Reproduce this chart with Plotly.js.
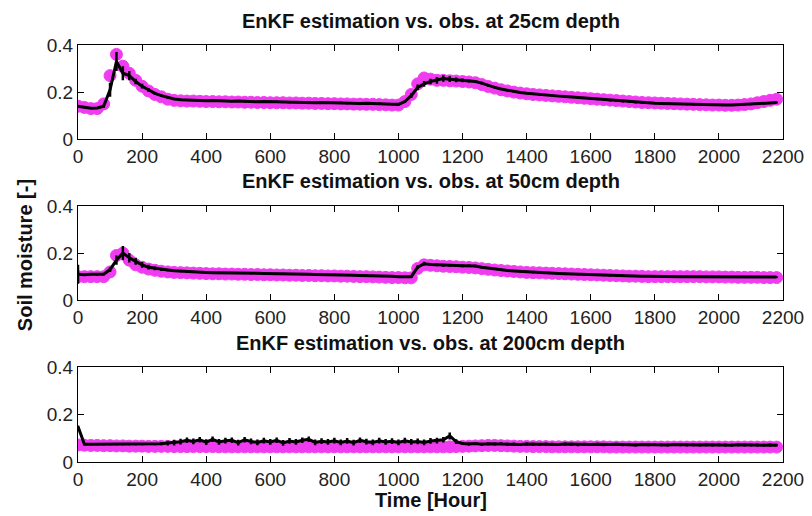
<!DOCTYPE html>
<html>
<head>
<meta charset="utf-8">
<script src="https://cdn.plot.ly/plotly-3.0.1.min.js"></script>
<style>
html,body{margin:0;padding:0;background:#fff;}
#chart{width:812px;height:516px;}
</style>
</head>
<body>
<div id="chart"></div>
<script>
// Time [Hour]
const hours = [
0,20,40,60,80,100,120,140,160,180,
200,220,240,260,280,300,320,340,360,380,
400,420,440,460,480,500,520,540,560,580,
600,620,640,660,680,700,720,740,760,780,
800,820,840,860,880,900,920,940,960,980,
1000,1020,1040,1060,1080,1100,1120,1140,1160,1180,
1200,1220,1240,1260,1280,1300,1320,1340,1360,1380,
1400,1420,1440,1460,1480,1500,1520,1540,1560,1580,
1600,1620,1640,1660,1680,1700,1720,1740,1760,1780,
1800,1820,1840,1860,1880,1900,1920,1940,1960,1980,
2000,2020,2040,2060,2080,2100,2120,2140,2160,2180];

// 25cm depth
const obs25 = [
.14,.135,.13,.13,.15,.27,.36,.31,.28,.25,
.225,.205,.19,.18,.17,.165,.163,.162,.162,.161,
.16,.16,.159,.159,.158,.158,.157,.157,.156,.156,
.155,.155,.155,.154,.154,.153,.153,.152,.152,.151,
.151,.15,.15,.149,.149,.148,.148,.147,.146,.145,
.145,.16,.19,.235,.26,.255,.25,.25,.248,.247,
.245,.243,.24,.232,.224,.217,.21,.205,.2,.196,
.193,.19,.188,.186,.184,.182,.18,.178,.176,.174,
.172,.17,.168,.166,.164,.162,.16,.158,.156,.155,
.154,.153,.152,.151,.15,.149,.148,.147,.146,.145,
.145,.144,.144,.145,.147,.15,.155,.16,.165,.17];
const est25 = [
.14,.135,.132,.133,.14,.21,.33,.28,.27,.245,
.225,.21,.195,.185,.177,.171,.168,.166,.165,.164,
.163,.164,.162,.163,.161,.162,.16,.161,.159,.16,
.158,.159,.158,.157,.158,.156,.157,.155,.156,.155,
.154,.155,.153,.154,.152,.153,.151,.152,.15,.149,
.148,.16,.185,.22,.235,.245,.25,.258,.255,.252,
.25,.247,.245,.238,.228,.22,.213,.207,.202,.198,
.195,.192,.19,.188,.186,.183,.181,.179,.177,.175,
.172,.17,.167,.164,.162,.16,.158,.156,.155,.154,
.153,.152,.151,.15,.149,.148,.147,.146,.146,.145,
.145,.145,.145,.146,.147,.148,.15,.152,.154,.156];
const err25 = [
.004,.004,.004,.004,.006,.03,.04,.03,.02,.012,
.01,.008,.006,.005,.005,.004,.004,.004,.004,.004,
.004,.004,.004,.004,.004,.004,.004,.004,.004,.004,
.004,.004,.004,.004,.004,.004,.004,.004,.004,.004,
.004,.004,.004,.004,.004,.004,.004,.004,.004,.004,
.004,.006,.01,.012,.012,.012,.014,.014,.012,.01,
.008,.006,.006,.006,.005,.004,.004,.004,.004,.004,
.004,.004,.004,.004,.004,.004,.004,.004,.004,.004,
.004,.004,.004,.004,.004,.004,.004,.004,.004,.004,
.004,.004,.004,.004,.004,.004,.004,.004,.004,.004,
.004,.004,.004,.004,.004,.004,.004,.004,.004,.004];

// 50cm depth
const obs50 = [
.10,.10,.10,.10,.10,.12,.19,.2,.17,.15,
.14,.132,.127,.123,.12,.118,.117,.116,.115,.114,
.113,.112,.112,.111,.111,.11,.11,.109,.109,.108,
.108,.107,.107,.106,.106,.105,.105,.104,.104,.103,
.103,.102,.102,.101,.1,.1,.099,.098,.097,.096,
.096,.095,.095,.135,.15,.148,.146,.144,.143,.142,
.14,.139,.137,.134,.131,.128,.126,.124,.122,.12,
.118,.117,.116,.115,.114,.113,.112,.111,.11,.109,
.108,.107,.106,.105,.104,.103,.102,.102,.101,.1,
.1,.1,.1,.1,.1,.1,.1,.1,.099,.099,
.099,.098,.098,.097,.097,.097,.097,.096,.096,.096];
const est50 = [
.11,.108,.11,.109,.11,.13,.17,.2,.18,.165,
.15,.14,.135,.13,.128,.125,.123,.121,.12,.119,
.118,.117,.117,.116,.116,.115,.115,.114,.114,.113,
.113,.112,.112,.111,.111,.11,.11,.109,.109,.108,
.108,.107,.107,.106,.105,.105,.104,.103,.102,.102,
.1,.1,.1,.14,.155,.152,.15,.148,.148,.147,
.146,.147,.145,.14,.136,.132,.129,.126,.124,.122,
.12,.118,.117,.116,.115,.113,.112,.111,.11,.109,
.108,.107,.106,.105,.104,.104,.103,.103,.102,.102,
.101,.101,.101,.1,.1,.1,.1,.1,.1,.1,
.1,.099,.099,.099,.098,.098,.098,.098,.098,.098];
const err50 = [
.04,.004,.004,.004,.004,.01,.02,.03,.02,.015,
.012,.01,.008,.006,.005,.004,.004,.004,.004,.004,
.004,.004,.004,.004,.004,.004,.004,.004,.004,.004,
.004,.004,.004,.004,.004,.004,.004,.004,.004,.004,
.004,.004,.004,.004,.004,.004,.004,.004,.004,.004,
.004,.004,.004,.008,.008,.006,.006,.006,.006,.006,
.006,.006,.005,.005,.004,.004,.004,.004,.004,.004,
.004,.004,.004,.004,.004,.004,.004,.004,.004,.004,
.004,.004,.004,.004,.004,.004,.004,.004,.004,.004,
.004,.004,.004,.004,.004,.004,.004,.004,.004,.004,
.004,.004,.004,.004,.004,.004,.004,.004,.004,.004];

// 200cm depth
const obs200 = [
.072,.071,.07,.07,.069,.069,.068,.068,.067,.067,
.067,.066,.066,.066,.066,.065,.065,.065,.065,.065,
.065,.065,.064,.064,.064,.064,.064,.064,.064,.064,
.064,.064,.064,.064,.064,.064,.064,.064,.064,.064,
.064,.064,.064,.064,.064,.064,.064,.064,.064,.064,
.064,.064,.064,.064,.064,.064,.064,.064,.064,.065,
.066,.067,.068,.069,.07,.07,.069,.068,.067,.066,
.066,.065,.065,.065,.064,.064,.064,.064,.064,.064,
.064,.064,.064,.063,.063,.063,.063,.063,.063,.063,
.063,.063,.063,.063,.063,.063,.063,.063,.063,.063,
.063,.063,.063,.063,.063,.063,.063,.063,.063,.063];
const est200 = [
.15,.075,.075,.075,.075,.075,.075,.075,.075,.075,
.075,.076,.075,.077,.08,.082,.086,.092,.087,.094,
.084,.096,.085,.09,.092,.082,.094,.087,.083,.09,
.085,.092,.081,.089,.085,.092,.096,.083,.088,.085,
.09,.083,.089,.082,.092,.086,.083,.09,.085,.088,
.083,.09,.085,.087,.083,.089,.09,.094,.11,.086,
.078,.076,.078,.075,.077,.076,.078,.075,.076,.074,
.076,.075,.074,.076,.075,.074,.076,.075,.073,.075,
.074,.075,.073,.074,.075,.073,.074,.072,.074,.073,
.074,.073,.072,.074,.073,.072,.073,.072,.073,.072,
.073,.072,.071,.073,.072,.071,.072,.071,.072,.071];
const err200 = [
.004,.004,.004,.004,.004,.004,.004,.004,.004,.004,
.004,.004,.004,.006,.01,.012,.012,.012,.012,.012,
.012,.012,.012,.012,.012,.012,.012,.012,.012,.012,
.012,.012,.012,.012,.012,.012,.012,.012,.012,.012,
.012,.012,.012,.012,.012,.012,.012,.012,.012,.012,
.012,.012,.012,.012,.012,.012,.012,.012,.015,.01,
.006,.006,.006,.006,.006,.006,.006,.006,.006,.006,
.006,.006,.006,.006,.006,.006,.006,.006,.006,.006,
.006,.006,.006,.006,.006,.006,.006,.006,.006,.006,
.006,.006,.006,.006,.006,.006,.006,.006,.006,.006,
.006,.006,.006,.006,.006,.006,.006,.006,.006,.006];

const depthLabels = ["25cm","50cm","200cm"];
const yTicks = [0, 0.2, 0.4];
const yTickText = ["0", "0.2", "0.4"];
const xTicks = [0,200,400,600,800,1000,1200,1400,1600,1800,2000,2200];

const obsSets = [obs25, obs50, obs200];
const estSets = [est25, est50, est200];
const errSets = [err25, err50, err200];

const MAG = "#f03cf0";
const traces = [];
for (let i = 0; i < 3; i++) {
  const xa = i === 0 ? "x" : "x" + (i + 1);
  const ya = i === 0 ? "y" : "y" + (i + 1);
  traces.push({
    x: hours, y: obsSets[i], xaxis: xa, yaxis: ya, type: "scatter", mode: "markers",
    marker: {symbol: "circle", size: 12, color: MAG, line: {color: MAG, width: 1}},
    hoverinfo: "skip", showlegend: false
  });
  traces.push({
    x: hours, y: estSets[i], xaxis: xa, yaxis: ya, type: "scatter", mode: "lines",
    line: {color: "#000", width: 3},
    error_y: {type: "data", array: errSets[i], visible: true, color: "#000", thickness: 2.5, width: 0},
    hoverinfo: "skip", showlegend: false
  });
}

const tickFont = {family: "Liberation Sans, Arial, sans-serif", size: 19, color: "#222"};
const titleFont = {family: "Liberation Sans, Arial, sans-serif", size: 20, color: "#111", weight: "bold"};

function xAxis(anchor) {
  return {
    anchor: anchor, domain: [0, 1], range: [0, 2200], tickvals: xTicks,
    ticks: "inside", ticklen: 6, tickwidth: 1, tickcolor: "#000",
    showline: true, linecolor: "#000", linewidth: 1, mirror: "ticks",
    showgrid: false, zeroline: false, tickfont: tickFont
  };
}
function yAxis(anchor, dom) {
  return {
    anchor: anchor, domain: dom, range: [0, 0.4], tickvals: yTicks, ticktext: yTickText,
    ticks: "inside", ticklen: 6, tickwidth: 1, tickcolor: "#000",
    showline: true, linecolor: "#000", linewidth: 1, mirror: "ticks",
    showgrid: false, zeroline: false, tickfont: tickFont
  };
}

const doms = [[0.774, 1.0], [0.388, 0.614], [0, 0.227]];
const annotations = [];
for (let i = 0; i < 3; i++) {
  annotations.push({
    text: "<b>EnKF estimation vs. obs. at " + depthLabels[i] + " depth</b>",
    xref: "paper", yref: "paper", x: 0.5, y: doms[i][1], xanchor: "center", yanchor: "middle",
    yshift: 24.5, showarrow: false, font: titleFont
  });
}
annotations.push({
  text: "<b>Soil moisture [-]</b>", xref: "paper", yref: "paper", x: 0, y: 0.496,
  xanchor: "center", yanchor: "middle", xshift: -53, textangle: -90, showarrow: false, font: titleFont
});
annotations.push({
  text: "<b>Time [Hour]</b>", xref: "paper", yref: "paper", x: 0.5, y: 0,
  xanchor: "center", yanchor: "middle", yshift: -38, showarrow: false, font: titleFont
});

const layout = {
  width: 812, height: 516,
  margin: {l: 78, r: 29, t: 44.5, b: 54.3},
  paper_bgcolor: "#fff", plot_bgcolor: "#fff",
  showlegend: false,
  xaxis: xAxis("y"), yaxis: yAxis("x", doms[0]),
  xaxis2: xAxis("y2"), yaxis2: yAxis("x2", doms[1]),
  xaxis3: xAxis("y3"), yaxis3: yAxis("x3", doms[2]),
  annotations: annotations
};

Plotly.newPlot("chart", traces, layout, {staticPlot: true, displayModeBar: false});
</script>
</body>
</html>
